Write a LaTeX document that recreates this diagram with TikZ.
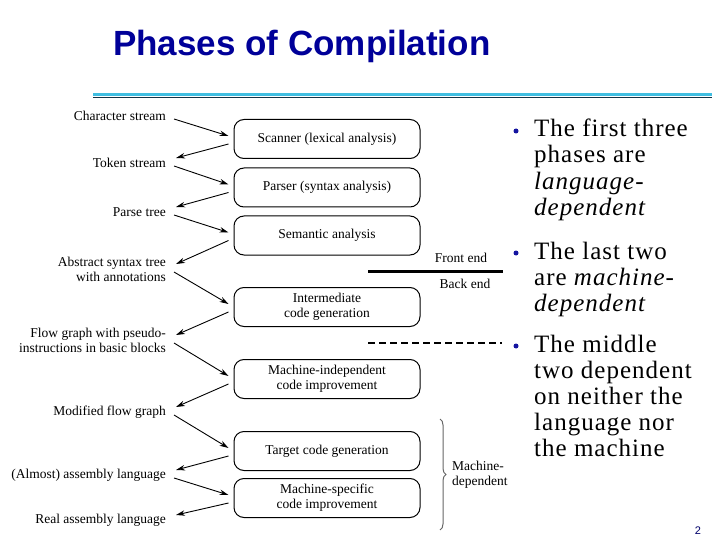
\documentclass[tikz,border=0pt]{standalone}
\usepackage{fontspec}
\setmainfont{Liberation Serif}
\newfontfamily\arialf{Liberation Sans}
\newfontfamily\bulfont[LetterSpace=4]{Liberation Serif}
\usetikzlibrary{arrows.meta,decorations.pathreplacing}
\definecolor{titleblue}{RGB}{0,0,153}
\definecolor{rulecyan}{RGB}{64,190,225}
\definecolor{ruledark}{RGB}{20,50,70}
\definecolor{bulletblue}{RGB}{20,20,160}
\newcommand\dfont{\fontsize{13.5}{15}\selectfont}
\begin{document}
\begin{tikzpicture}[x=1pt,y=-1pt,
  phase/.style={draw, rounded corners=10pt, line width=1pt, minimum width=186pt, minimum height=39pt, align=center, font=\dfont, inner sep=2pt},
  lab/.style={anchor=east, align=right, font=\dfont, inner sep=0pt},
  plain/.style={font=\dfont, inner sep=0pt},
  arr/.style={-{Stealth[length=9pt,width=5.5pt]}, line width=0.9pt},
  bul/.style={anchor=base west, align=left, inner sep=0pt, font=\bulfont\fontsize{25}{26}\selectfont},
  dot/.style={circle, fill=bulletblue, inner sep=0pt, minimum size=5pt}]
\useasboundingbox[fill=white] (0,0) rectangle (720,540);

% title and rule
\node[anchor=base west, font=\arialf\bfseries\fontsize{35}{40}\selectfont, text=titleblue, inner sep=0pt] (title) at (113,56) {Phases of Compilation};
\coordinate (r1) at (93,95);
\coordinate (r2) at (712,95);
\coordinate (r3) at (93,97.5);
\coordinate (r4) at (712,97.5);
\draw[line width=3pt, rulecyan] (r1) -- (r2);
\draw[line width=1pt, ruledark] (r3) -- (r4);

% phase boxes
\node[phase] (b1) at (327,139) {Scanner (lexical analysis)};
\node[phase] (b2) at (327,187.5) {Parser (syntax analysis)};
\node[phase] (b3) at (327,235.5) {Semantic analysis};
\node[phase] (b4) at (327,307) {Intermediate\\code generation};
\node[phase] (b5) at (327,379) {Machine-independent\\code improvement};
\node[phase] (b6) at (327,451) {Target code generation};
\node[phase] (b7) at (327,498) {Machine-specific\\code improvement};

% left labels
\node[lab] (l0) at (166,116) {Character stream};
\node[lab] (l1) at (166,163) {Token stream};
\node[lab] (l2) at (166,212) {Parse tree};
\node[lab] (l3) at (166,269) {Abstract syntax tree\\with annotations};
\node[lab] (l4) at (166,340) {Flow graph with pseudo-\\instructions in basic blocks};
\node[lab] (l5) at (166,412) {Modified flow graph};
\node[lab] (l6) at (166,475) {(Almost) assembly language};
\node[lab] (l7) at (166,520) {Real assembly language};

% arrows
\foreach \a/\b/\c in {l0/b1/l1, l1/b2/l2, l2/b3/l3, l3/b4/l4, l4/b5/l5, l5/b6/l6, l6/b7/l7}{
  \draw[arr] ([shift={(8,3)}]\a.east) -- ([shift={(-5,-3)}]\b.west);
  \draw[arr] ([shift={(-5,5)}]\b.west) -- ([shift={(10,-5)}]\c.east);
}

% front end / back end
\coordinate (fe1) at (368,271);
\coordinate (fe2) at (503,271);
\draw[line width=3pt] (fe1) -- (fe2);
\node[plain] (fe) at (461,258) {Front end};
\node[plain] (be) at (465,284) {Back end};

% dashed separator
\coordinate (ds1) at (368,343);
\coordinate (ds2) at (502,343);
\draw[line width=1.2pt, dash pattern=on 7pt off 4pt] (ds1) -- (ds2);

% brace
\coordinate (br1) at (440,419);
\coordinate (br2) at (440,530);
\draw[decorate, decoration={brace, amplitude=6pt}, black!60, line width=1pt] (br1) -- (br2);
\node[plain, anchor=west, align=left] (md) at (452,475) {Machine-\\dependent};

% bullets (base anchor = baseline of last line)
\node[dot] (d1) at (516,131) {};
\node[dot] (d2) at (516,253) {};
\node[dot] (d3) at (516,346) {};
\node[bul] (t1) at (534,215) {The first three\\phases are\\\textit{language-}\\\textit{dependent}};
\node[bul] (t2) at (534,311) {The last two\\are \textit{machine-}\\\textit{dependent}};
\node[bul] (t3) at (534,456) {The middle\\two dependent\\on neither the\\language nor\\the machine};

% page number
\node[font=\arialf\fontsize{11}{12}\selectfont, text=titleblue!70!black, inner sep=0pt] (pg) at (698,531) {2};
\end{tikzpicture}
\end{document}
